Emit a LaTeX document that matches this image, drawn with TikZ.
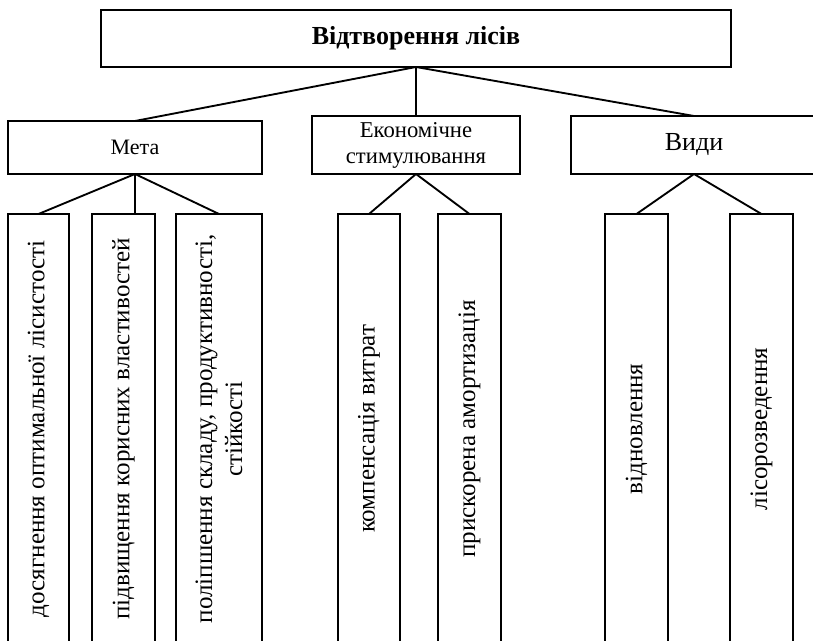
\documentclass[tikz,border=0pt]{standalone}
\usepackage{fontspec}
\setmainfont{Liberation Serif}
\begin{document}
\begin{tikzpicture}[x=0.75pt, y=-0.75pt,
  box/.style={draw, line width=1.4pt, inner sep=0pt, outer sep=0pt},
  link/.style={line width=1.4pt},
  vtext/.style={rotate=90, align=center, inner sep=0pt,
    font=\fontsize{18.8}{22.5}\selectfont}]
\useasboundingbox (0,0) rectangle (813,641);
\begin{scope}
\clip (0,0) rectangle (813,641);
% root
\node[box, minimum width={630*0.75pt}, minimum height={57*0.75pt},
  font=\bfseries\fontsize{19.5}{22}\selectfont] (root) at (416,38.5) {Відтворення лісів};
% second level
\node[box, minimum width={254*0.75pt}, minimum height={53*0.75pt},
  font=\fontsize{16.5}{19}\selectfont] (meta) at (135,147.5) {Мета};
\node[box, minimum width={208*0.75pt}, minimum height={58*0.75pt}, align=center,
  font=\fontsize{17}{19.5}\selectfont] (econ) at (416,145) {Економічне\\стимулювання};
\node[box, minimum width={246*0.75pt}, minimum height={58*0.75pt},
  font=\fontsize{19.5}{22}\selectfont] (vydy) at (694,145) {Види};
% third level boxes
\node[box, minimum width={61*0.75pt}, minimum height={430*0.75pt}] (m1) at (38.5,429) {};
\node[box, minimum width={63*0.75pt}, minimum height={430*0.75pt}] (m2) at (123.5,429) {};
\node[box, minimum width={86*0.75pt}, minimum height={430*0.75pt}] (m3) at (219,429) {};
\node[box, minimum width={62*0.75pt}, minimum height={430*0.75pt}] (e1) at (369,429) {};
\node[box, minimum width={63*0.75pt}, minimum height={430*0.75pt}] (e2) at (469.5,429) {};
\node[box, minimum width={63*0.75pt}, minimum height={430*0.75pt}] (v1) at (636.5,429) {};
\node[box, minimum width={63*0.75pt}, minimum height={430*0.75pt}] (v2) at (761.5,429) {};
% rotated captions
\node[vtext] (m1t) at (m1) {досягнення оптимальної лісистості};
\node[vtext] (m2t) at (m2) {підвищення корисних властивостей};
\node[vtext] (m3t) at (m3) {поліпшення складу, продуктивності,\\стійкості};
\node[vtext] (e1t) at (e1) {компенсація витрат};
\node[vtext] (e2t) at (e2) {прискорена амортизація};
\node[vtext] (v1t) at (v1) {відновлення};
\node[vtext] (v2t) at (v2) {лісорозведення};
% connectors
\draw[link] (root.south) -- (meta.north);
\draw[link] (root.south) -- (econ.north);
\draw[link] (root.south) -- (vydy.north);
\draw[link] (meta.south) -- (m1.north);
\draw[link] (meta.south) -- (meta.south |- m2.north);
\draw[link] (meta.south) -- (m3.north);
\draw[link] (econ.south) -- (e1.north);
\draw[link] (econ.south) -- (e2.north);
\draw[link] (vydy.south) -- (v1.north);
\draw[link] (vydy.south) -- (v2.north);
\end{scope}
\end{tikzpicture}
\end{document}
